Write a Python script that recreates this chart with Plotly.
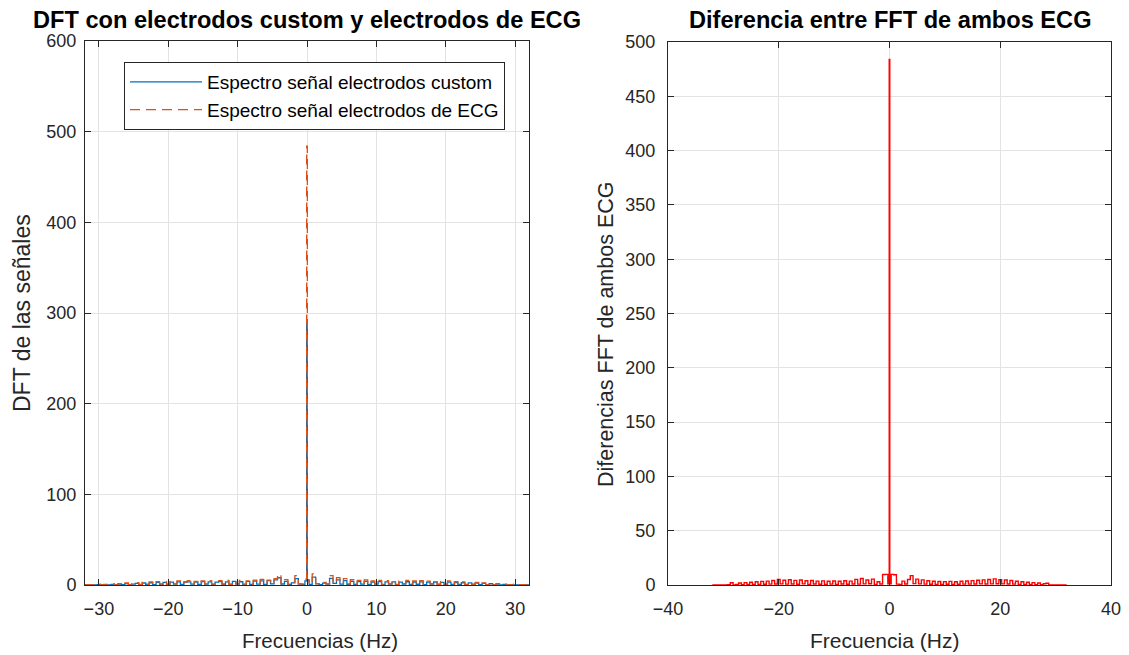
import plotly.graph_objects as go

# Frequency bins (Hz) shared by all spectra
freq_hz = [
    -32.0, -31.5, -31.0, -30.5, -30.0, -29.5, -29.0, -28.5, -28.0, -27.5,
    -27.0, -26.5, -26.0, -25.5, -25.0, -24.5, -24.0, -23.5, -23.0, -22.5,
    -22.0, -21.5, -21.0, -20.5, -20.0, -19.5, -19.0, -18.5, -18.0, -17.5,
    -17.0, -16.5, -16.0, -15.5, -15.0, -14.5, -14.0, -13.5, -13.0, -12.5,
    -12.0, -11.5, -11.0, -10.5, -10.0, -9.5, -9.0, -8.5, -8.0, -7.5,
    -7.0, -6.5, -6.0, -5.5, -5.0, -4.5, -4.0, -3.5, -3.0, -2.5,
    -2.0, -1.5, -1.0, -0.5,
    -0.1, 0.0, 0.1,
    0.5, 1.0, 1.5, 2.0, 2.5, 3.0, 3.5, 4.0, 4.5, 5.0,
    5.5, 6.0, 6.5, 7.0, 7.5, 8.0, 8.5, 9.0, 9.5, 10.0,
    10.5, 11.0, 11.5, 12.0, 12.5, 13.0, 13.5, 14.0, 14.5, 15.0,
    15.5, 16.0, 16.5, 17.0, 17.5, 18.0, 18.5, 19.0, 19.5, 20.0,
    20.5, 21.0, 21.5, 22.0, 22.5, 23.0, 23.5, 24.0, 24.5, 25.0,
    25.5, 26.0, 26.5, 27.0, 27.5, 28.0, 28.5, 29.0, 29.5, 30.0,
    30.5, 31.0, 31.5, 32.0,
]

# |DFT| of the signal recorded with the custom electrodes
dft_custom = [
    0.1, 0.2, 0.3, 0.1, 0.5, 0.1, 0.4, 0.2, 0.7, 0.2,
    1.1, 0.3, 1.6, 0.4, 1.0, 1.9, 0.5, 2.2, 0.6, 2.5,
    0.5, 2.8, 0.8, 3.0, 0.6, 3.2, 0.9, 3.4, 0.7, 3.1,
    3.5, 0.9, 3.3, 0.6, 3.7, 1.0, 3.4, 0.7, 3.2, 3.8,
    0.8, 3.5, 0.6, 3.9, 1.1, 3.6, 0.7, 4.0, 0.6, 4.3,
    0.9, 4.6, 0.7, 4.9, 1.2, 5.6, 8.0, 1.1, 4.1, 0.6,
    2.4, 7.1, 0.9, 0.7,
    4.6, 292.0, 4.9,
    0.6, 8.6, 1.2, 0.5, 2.1, 0.9, 7.2, 1.8, 5.6, 1.0,
    4.9, 0.8, 4.1, 0.7, 3.7, 1.0, 3.9, 0.6, 3.3, 0.9,
    3.7, 0.5, 3.4, 1.0, 3.5, 0.5, 3.2, 1.1, 3.6, 0.7,
    3.3, 0.8, 3.4, 0.5, 3.1, 1.0, 3.3, 0.6, 2.9, 0.7,
    3.1, 0.6, 2.7, 0.7, 2.5, 0.4, 2.3, 0.6, 2.0, 0.4,
    1.7, 0.3, 1.4, 0.2, 1.0, 0.1, 0.6, 0.1, 0.3, 0.2,
    0.1, 0.2, 0.1, 0.1,
]

# |DFT| of the signal recorded with standard ECG electrodes
dft_ecg = [
    0.3, 0.1, 0.5, 0.1, 0.9, 0.2, 0.6, 0.1, 1.1, 0.3,
    1.6, 0.4, 2.2, 0.5, 1.4, 2.6, 0.6, 2.9, 0.8, 3.4,
    0.7, 3.7, 1.0, 4.1, 0.8, 3.9, 1.2, 4.4, 0.9, 3.6,
    4.8, 1.1, 4.1, 0.7, 4.6, 1.3, 4.9, 0.9, 3.8, 4.7,
    1.0, 5.1, 0.8, 4.3, 1.4, 5.0, 0.9, 4.6, 0.8, 5.4,
    1.2, 6.2, 0.9, 5.3, 1.5, 7.1, 11.8, 1.4, 6.0, 0.8,
    3.1, 10.4, 1.2, 0.9,
    6.5, 484.0, 5.8,
    0.8, 12.2, 1.6, 0.7, 2.9, 1.2, 10.3, 2.4, 8.2, 1.3,
    7.0, 1.1, 5.8, 0.9, 5.1, 1.4, 5.6, 0.8, 4.5, 1.2,
    5.2, 0.7, 4.7, 1.3, 4.9, 0.6, 4.4, 1.5, 5.0, 0.9,
    4.6, 1.1, 4.8, 0.7, 4.3, 1.4, 4.6, 0.8, 4.1, 1.0,
    4.4, 0.8, 3.8, 0.9, 3.5, 0.6, 3.2, 0.8, 2.8, 0.5,
    2.4, 0.4, 2.0, 0.3, 1.5, 0.2, 1.0, 0.1, 0.5, 1.0,
    0.1, 0.4, 0.1, 0.1,
]

# Magnitude of the difference between both ECG spectra
fft_diff = [
    0.0, 0.0, 0.1, 0.0, 0.1, 0.0, 0.2, 2.1, 0.1, 0.5,
    1.8, 0.3, 2.2, 0.4, 2.6, 0.5, 3.0, 0.6, 3.3, 0.7,
    3.6, 0.8, 4.2, 0.9, 5.0, 1.0, 4.4, 0.8, 4.8, 0.9,
    4.3, 0.7, 4.6, 1.0, 3.9, 0.6, 4.1, 0.9, 3.6, 0.7,
    3.8, 0.6, 3.4, 0.8, 3.7, 0.6, 3.5, 0.9, 3.9, 0.7,
    3.6, 0.9, 5.2, 0.8, 6.0, 1.0, 4.6, 1.2, 5.4, 0.6,
    3.0, 0.9, 9.6, 9.8,
    1.2, 484.0, 1.0,
    9.8, 9.5, 0.8, 0.5, 3.6, 0.9, 5.1, 8.6, 1.3, 5.4,
    1.0, 4.7, 0.8, 3.9, 0.7, 3.4, 0.6, 3.2, 0.5, 3.1,
    0.7, 3.3, 0.6, 3.0, 0.7, 3.4, 0.8, 3.7, 0.8, 4.0,
    0.9, 4.4, 1.0, 4.7, 0.9, 5.0, 1.0, 5.6, 1.1, 4.9,
    1.0, 4.6, 0.9, 4.1, 0.8, 3.5, 0.6, 3.0, 0.5, 2.6,
    0.4, 2.2, 0.3, 1.8, 0.2, 1.2, 1.6, 0.1, 0.1, 0.0,
    0.0, 0.0, 0.0, 0.0,
]

FONT = "Liberation Sans"
AX_COLOR = "#262626"
GRID_COLOR = "#e3e3e3"
W, H = 1129, 655

# Axes boxes in pixels: (left, right, top, bottom)
left_box = (85, 529, 41, 585)
right_box = (668, 1111, 42, 585)


def px_x(p):
    return p / W


def px_y(p):
    return 1 - p / H


fig = go.Figure()

fig.add_trace(go.Scatter(
    x=freq_hz, y=dft_custom, mode="lines",
    name="Espectro señal electrodos custom",
    line=dict(color="#0072BD", width=1.3, shape="hvh"),
    xaxis="x", yaxis="y",
))
fig.add_trace(go.Scatter(
    x=freq_hz, y=dft_ecg, mode="lines",
    name="Espectro señal electrodos de ECG",
    line=dict(color="#D95319", width=1.3, dash="10px,6px", shape="hvh"),
    xaxis="x", yaxis="y",
))
fig.add_trace(go.Scatter(
    x=freq_hz, y=fft_diff, mode="lines",
    showlegend=False,
    line=dict(color="#FF0000", width=1.4, shape="hvh"),
    xaxis="x2", yaxis="y2",
))

axis_common = dict(
    showline=True, linecolor=AX_COLOR, linewidth=1, mirror="allticks",
    ticks="inside", ticklen=6, tickcolor=AX_COLOR, tickwidth=1,
    showgrid=True, gridcolor=GRID_COLOR, gridwidth=1,
    zeroline=False, automargin=False,
    tickfont=dict(family=FONT, size=18, color=AX_COLOR),
)

fig.update_layout(
    width=W, height=H,
    margin=dict(l=0, r=0, t=0, b=0, autoexpand=False),
    paper_bgcolor="white", plot_bgcolor="white",
    font=dict(family=FONT, color=AX_COLOR),
    xaxis=dict(axis_common, domain=[px_x(left_box[0]), px_x(left_box[1])],
               range=[-32, 32], tickvals=[-30, -20, -10, 0, 10, 20, 30],
               ticklabelstandoff=7, anchor="y"),
    yaxis=dict(axis_common, domain=[px_y(left_box[3]), px_y(left_box[2])],
               range=[0, 600], tickvals=[0, 100, 200, 300, 400, 500, 600],
               ticklabelstandoff=4, anchor="x"),
    xaxis2=dict(axis_common, domain=[px_x(right_box[0]), px_x(right_box[1])],
                range=[-40, 40], tickvals=[-40, -20, 0, 20, 40],
                ticklabelstandoff=7, anchor="y2"),
    yaxis2=dict(axis_common, domain=[px_y(right_box[3]), px_y(right_box[2])],
                range=[0, 500], tickvals=list(range(0, 501, 50)),
                ticklabelstandoff=8, anchor="x2"),
    legend=dict(
        x=px_x(124), y=px_y(62), xanchor="left", yanchor="top",
        bgcolor="white", bordercolor=AX_COLOR, borderwidth=1,
        font=dict(family=FONT, size=19, color="#000000"),
        itemwidth=72, tracegroupgap=0,
    ),
    showlegend=True,
)

annotations = [
    dict(text="<b>DFT con electrodos custom y electrodos de ECG</b>",
         x=px_x(307), y=px_y(20),
         font=dict(family=FONT, size=23.6, color="#000000")),
    dict(text="<b>Diferencia entre FFT de ambos ECG</b>",
         x=px_x(890), y=px_y(20),
         font=dict(family=FONT, size=23.6, color="#000000")),
    dict(text="Frecuencias (Hz)",
         x=px_x(320), y=px_y(640),
         font=dict(family=FONT, size=20.5, color=AX_COLOR)),
    dict(text="Frecuencia (Hz)",
         x=px_x(884), y=px_y(640),
         font=dict(family=FONT, size=21, color=AX_COLOR)),
    dict(text="DFT de las señales", textangle=-90,
         x=px_x(22), y=px_y(313),
         font=dict(family=FONT, size=23, color=AX_COLOR)),
    dict(text="Diferencias FFT de ambos ECG", textangle=-90,
         x=px_x(606), y=px_y(335),
         font=dict(family=FONT, size=21.5, color=AX_COLOR)),
]
for a in annotations:
    a.update(xref="paper", yref="paper", xanchor="center", yanchor="middle",
             showarrow=False)
fig.update_layout(annotations=annotations)

fig.write_html("out.html")
